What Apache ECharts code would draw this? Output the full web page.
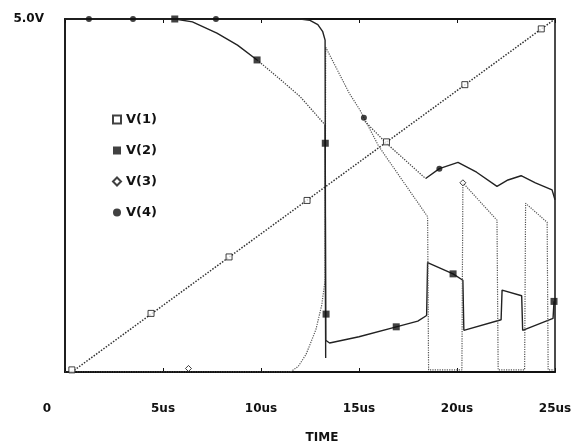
<!DOCTYPE html>
<html>
<head>
<meta charset="utf-8">
<script src="https://cdn.jsdelivr.net/npm/echarts@6/dist/echarts.min.js"></script>
<style>html,body{margin:0;padding:0;background:#fff;}#c{width:576px;height:446px;}</style>
</head>
<body>
<div id="c"></div>
<script>
// x tick values (us) and y range (V)
const xTicks = [0, 5, 10, 15, 20, 25];
const yMax = 5;
const seriesNames = ['V(1)', 'V(2)', 'V(3)', 'V(4)'];

// V(1): ramp
const v1Line = [[0.35, 0.0], [25, 5.0]];
const v1Marks = [[0.35, 0.03], [4.39, 0.83], [8.37, 1.63], [12.35, 2.43], [16.4, 3.26], [20.4, 4.07], [24.3, 4.86]];

// V(2)
const v2Line = [[0, 5], [5.6, 5.0], [6.5, 4.96], [7.75, 4.8], [8.8, 4.63], [9.8, 4.42], [11, 4.14], [12, 3.9], [13.27, 3.5],
  [13.3, 0.45], [13.5, 0.41], [15, 0.5], [16.9, 0.64], [18.0, 0.72], [18.45, 0.8], [18.5, 1.55], [19.8, 1.39], [20.3, 1.3],
  [20.35, 0.59], [22.25, 0.74], [22.3, 1.16], [23.3, 1.08], [23.35, 0.59], [24.9, 0.76], [24.95, 1.0]];
const v2Marks = [[5.6, 5.0], [9.8, 4.42], [13.28, 3.24], [13.32, 0.82], [16.9, 0.64], [19.8, 1.39], [24.95, 1.0]];

// V(3)
const v3Line = [[0, 0], [11.5, 0], [11.9, 0.08], [12.3, 0.25], [12.8, 0.6], [13.1, 0.95], [13.27, 1.3], [13.3, 4.6],
  [14.5, 3.95], [15.05, 3.71], [16.0, 3.2], [18.5, 2.2], [18.55, 0.03], [20.25, 0.03], [20.3, 2.68], [22.04, 2.15],
  [22.1, 0.03], [23.45, 0.03], [23.5, 2.39], [24.6, 2.12], [24.65, 0.03], [25, 0.03]];
const v3Marks = [[6.3, 0.05], [20.3, 2.68]];

// V(4)
const v4Line = [[0, 5], [12.0, 5], [12.5, 4.98], [12.9, 4.92], [13.15, 4.82], [13.27, 4.7], [13.3, 0.2], [14.3, null],
  [15.3, 3.55], [16.4, 3.24], [18.4, 2.74], [19.1, 2.88], [20.05, 2.97], [21.0, 2.83], [22.04, 2.63], [22.6, 2.72],
  [23.27, 2.78], [24.0, 2.68], [24.85, 2.58], [25, 2.44]];
const v4Marks = [[1.22, 5], [3.47, 5], [7.7, 5], [15.25, 3.6], [19.1, 2.88]];

const FONT = 'DejaVu Sans';
const chart = echarts.init(document.getElementById('c'), null, {renderer: 'canvas'});

const axisCommon = {
  type: 'value', min: xTicks[0], max: xTicks[xTicks.length - 1], interval: 5,
  splitLine: {show: false},
  axisTick: {show: true, inside: true, length: 4, lineStyle: {color: '#111', width: 1}}
};

const solid = {color: '#222', width: 1.4};
const dotted = {color: '#444', width: 1.3, type: 'dotted'};
function lineSeries(id, data, style) {
  return {name: id, type: 'line', data: data, symbol: 'none', connectNulls: false, lineStyle: style, z: 2};
}

chart.setOption({
  animation: false,
  backgroundColor: '#fff',
  grid: {left: 65, right: 21, top: 19, bottom: 74, containLabel: false, outerBoundsMode: 'none',
    show: true, borderColor: '#111', borderWidth: 1.5, backgroundColor: 'transparent'},
  legend: {
    data: seriesNames, orient: 'vertical', left: 107, top: 108, itemWidth: 8, itemHeight: 8, itemGap: 18,
    textStyle: {fontFamily: FONT, fontWeight: 'bold', fontSize: 13, color: '#111'}
  },
  xAxis: [
    Object.assign({}, axisCommon, {
      position: 'bottom',
      axisLine: {show: true, lineStyle: {color: '#111', width: 2}},
      axisLabel: {
        margin: 31, fontFamily: FONT, fontWeight: 'bold', fontSize: 12, color: '#111',
        formatter: v => v === 0 ? '{z|0}' : v + 'us',
        rich: {z: {padding: [0, 36, 0, 0], fontFamily: FONT, fontWeight: 'bold', fontSize: 12, color: '#111'}}
      },
      name: 'TIME', nameLocation: 'middle', nameGap: 60,
      nameTextStyle: {fontFamily: FONT, fontWeight: 'bold', fontSize: 12, color: '#111', padding: [0, 0, 0, 24]}
    }),
    Object.assign({}, axisCommon, {
      position: 'top',
      axisLine: {show: true, lineStyle: {color: '#111', width: 2}},
      axisLabel: {show: false}
    })
  ],
  yAxis: {
    type: 'value', min: 0, max: yMax, interval: 5,
    splitLine: {show: false},
    axisLine: {show: true, lineStyle: {color: '#111', width: 1.5}},
    axisTick: {show: false},
    axisLabel: {
      margin: 21, fontFamily: FONT, fontWeight: 'bold', fontSize: 12, color: '#111',
      formatter: v => v === yMax ? yMax.toFixed(1) + 'V' : ''
    }
  },
  series: [
    lineSeries('l1', v1Line, {color: '#333', width: 1.5, type: 'dotted'}),
    lineSeries('l2a', v2Line.slice(0, 6), solid),
    lineSeries('l2b', v2Line.slice(5, 9), dotted),
    lineSeries('l2c', v2Line.slice(8), solid),
    lineSeries('l3', v3Line, {color: '#555', width: 1.2, type: 'dotted'}),
    lineSeries('l4a', v4Line.slice(0, 8), solid),
    lineSeries('l4b', v4Line.slice(8, 11), dotted),
    lineSeries('l4c', v4Line.slice(10), solid),
    {name: 'V(1)', type: 'scatter', data: v1Marks, symbol: 'rect', symbolSize: 6, itemStyle: {color: '#fff', borderColor: '#111', borderWidth: 1}, z: 3},
    {name: 'V(2)', type: 'scatter', data: v2Marks, symbol: 'rect', symbolSize: 7, itemStyle: {color: '#111'}, z: 3},
    {name: 'V(3)', type: 'scatter', data: v3Marks, symbol: 'diamond', symbolSize: 6, itemStyle: {color: '#fff', borderColor: '#111', borderWidth: 1}, z: 3},
    {name: 'V(4)', type: 'scatter', data: v4Marks, symbol: 'circle', symbolSize: 6, itemStyle: {color: '#111'}, z: 3}
  ]
});
</script>
</body>
</html>
